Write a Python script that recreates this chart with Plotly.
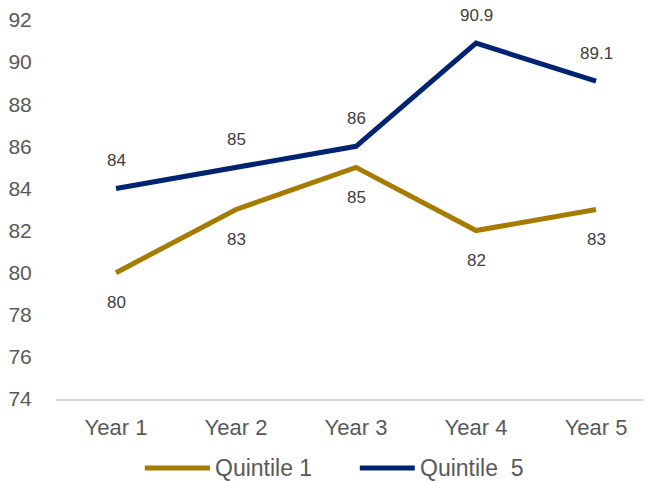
import plotly.graph_objects as go

categories = ["Year 1", "Year 2", "Year 3", "Year 4", "Year 5"]
quintile1 = [80, 83, 85, 82, 83]
quintile5 = [84, 85, 86, 90.9, 89.1]
y_ticks = [74, 76, 78, 80, 82, 84, 86, 88, 90, 92]
series_names = ["Quintile 1", "Quintile\u00a0\u00a05"]

GOLD = "#A67B00"
NAVY = "#002372"
TXT = "#595959"
FONT = "Liberation Sans, Arial, sans-serif"

fig = go.Figure()
fig.add_trace(go.Scatter(x=categories, y=quintile1, mode="lines", name=series_names[0],
                         line=dict(color=GOLD, width=5), showlegend=False))
fig.add_trace(go.Scatter(x=categories, y=quintile5, mode="lines", name=series_names[1],
                         line=dict(color=NAVY, width=5), showlegend=False))

def fmt(v):
    return str(int(v)) if float(v).is_integer() else str(v)

for c, v in zip(categories, quintile1):
    fig.add_annotation(x=c, y=v, text=fmt(v), showarrow=False, yshift=-30,
                       font=dict(size=17, color="#404040", family=FONT))
for c, v in zip(categories, quintile5):
    fig.add_annotation(x=c, y=v, text=fmt(v), showarrow=False, yshift=28,
                       font=dict(size=17, color="#404040", family=FONT))

# custom legend (long line keys)
legend_items = [(series_names[0], GOLD, 0.147, 0.255), (series_names[1], NAVY, 0.503, 0.594)]
ly = -0.182
for name, col, x0, x1 in legend_items:
    fig.add_shape(type="line", xref="paper", yref="paper", x0=x0, x1=x1, y0=ly, y1=ly,
                  line=dict(color=col, width=5))
    fig.add_annotation(xref="paper", yref="paper", x=x1 + 0.005, y=ly, text=name,
                       showarrow=False, xanchor="left", yanchor="middle",
                       font=dict(size=23, color=TXT, family=FONT))

fig.update_layout(
    width=652, height=481,
    margin=dict(l=48, r=0, t=12, b=90),
    paper_bgcolor="white", plot_bgcolor="white",
    font=dict(family=FONT, color=TXT),
    showlegend=False,
    xaxis=dict(range=[-0.5, 4.533], showgrid=False, showline=True, linecolor="#D9D9D9",
               linewidth=2, ticks="outside", ticklen=8, tickcolor="rgba(0,0,0,0)",
               tickfont=dict(size=22, color=TXT), zeroline=False, automargin=False),
    yaxis=dict(range=[74, 92], tickvals=y_ticks, showgrid=False, zeroline=False,
               showline=False, ticks="outside", ticklen=19, tickcolor="rgba(0,0,0,0)",
               tickfont=dict(size=21, color=TXT), automargin=False,
               ticklabeloverflow="allow"),
)

fig.write_html("out.html")
